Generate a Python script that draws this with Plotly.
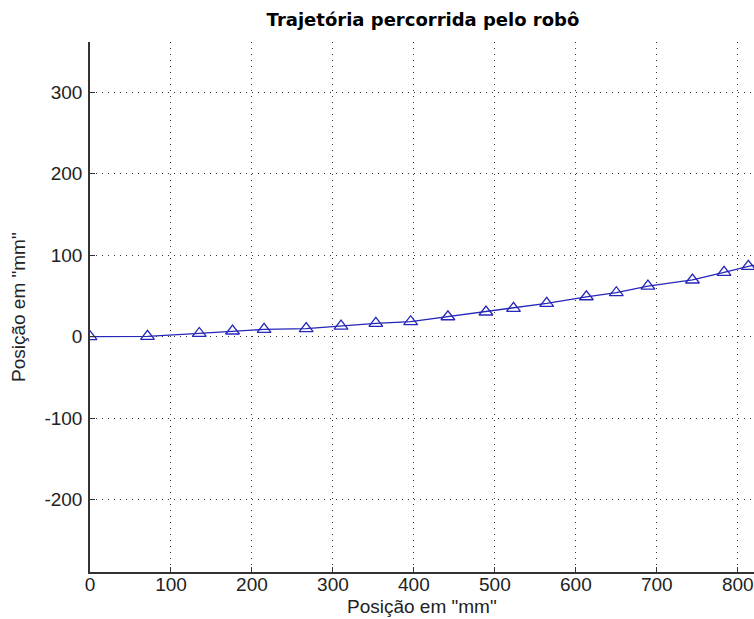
import plotly.graph_objects as go

# Data
pos_x = [0, 71, 135, 176, 215, 267, 310, 353, 396, 442, 489, 523, 564, 613, 650, 689, 744, 783, 813, 850]
pos_y = [0, 0.5, 4, 7, 9, 10, 13, 16.4, 18.4, 24.5, 30.3, 34.8, 41, 49, 54, 62, 69.6, 79, 86.4, 94]

x_ticks = [0, 100, 200, 300, 400, 500, 600, 700, 800]
y_ticks = [-200, -100, 0, 100, 200, 300]

title_text = "Trajetória percorrida pelo robô"
x_title = "Posição em \"mm\""
y_title = "Posição em \"mm\""

blue = "#2626b8"
tick_font = dict(family="Liberation Sans, Arial", size=19, color="#222")
lab_font = dict(family="Liberation Sans, Arial", size=19, color="#222")

W, H = 754, 619
L, R, T, B = 90, 0, 42, 47
plot_w, plot_h = W - L - R, H - T - B

fig = go.Figure()
fig.add_trace(go.Scatter(
    x=pos_x, y=pos_y, mode="lines+markers",
    line=dict(color=blue, width=1.3),
    marker=dict(symbol="triangle-up-open", size=12, color=blue, line=dict(width=1.3, color=blue)),
    showlegend=False, cliponaxis=True,
))

fig.update_layout(
    width=W, height=H,
    margin=dict(l=L, r=R, t=T, b=B, autoexpand=False),
    paper_bgcolor="white", plot_bgcolor="white",
    title=dict(text="<b>" + title_text + "</b>", x=0.561, xanchor="center",
               y=1 - 20 / H, yanchor="middle",
               font=dict(family="DejaVu Sans, Liberation Sans", size=18, color="black")),
    showlegend=False,
    annotations=[
        dict(text=x_title, xref="paper", yref="paper", x=0.5, y=-34 / plot_h,
             xanchor="center", yanchor="middle", showarrow=False, font=lab_font),
        dict(text=y_title, xref="paper", yref="paper", x=(18 - L) / plot_w, y=0.5,
             xanchor="center", yanchor="middle", textangle=-90, showarrow=False, font=lab_font),
    ],
)

fig.update_xaxes(
    range=[0, 820], tickvals=x_ticks, ticktext=[str(v) for v in x_ticks],
    showline=True, linecolor="#333", linewidth=1.5, mirror=False,
    ticks="inside", ticklen=5, tickcolor="#333",
    showgrid=True, gridcolor="#333", gridwidth=1, griddash="1px,5px",
    zeroline=False, tickfont=tick_font, automargin=False, ticklabelstandoff=-6,
    ticklabeloverflow="allow",
)
fig.update_yaxes(
    range=[-288.7, 361.6], tickvals=y_ticks, ticktext=[str(v) for v in y_ticks],
    showline=True, linecolor="#333", linewidth=1.5, mirror=False,
    ticks="inside", ticklen=5, tickcolor="#333",
    showgrid=True, gridcolor="#333", gridwidth=1, griddash="1px,5px",
    zeroline=False, tickfont=tick_font, automargin=False, ticklabelstandoff=2,
    ticklabeloverflow="allow",
)

fig.write_html("out.html", config={"displayModeBar": False},
               post_script="document.body.style.margin='0';document.body.style.overflow='hidden';")
